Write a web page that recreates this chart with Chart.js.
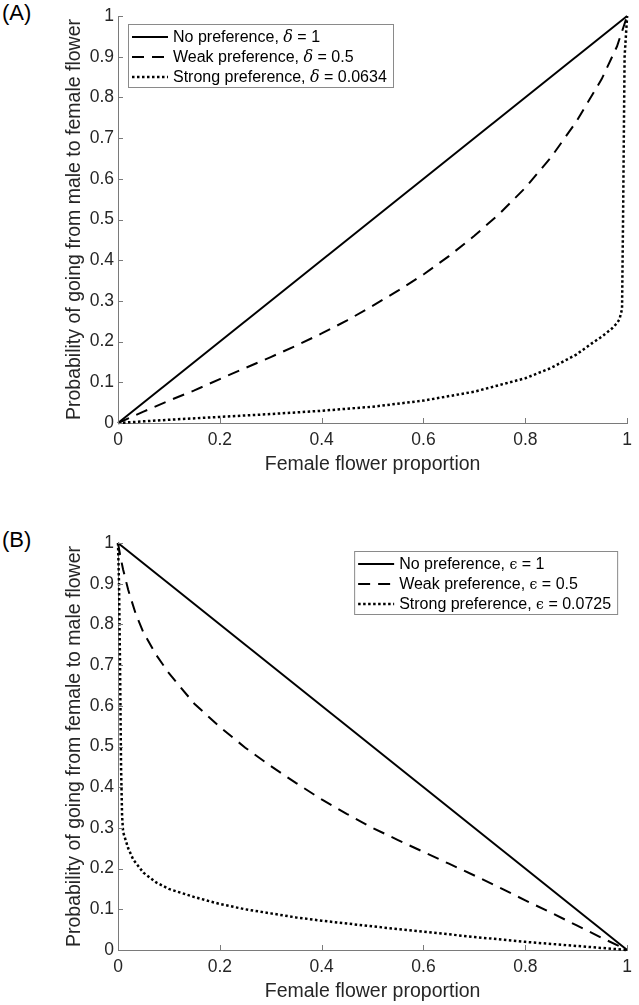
<!DOCTYPE html>
<html><head><meta charset="utf-8">
<script src="https://cdn.jsdelivr.net/npm/chart.js@4.4.0/dist/chart.umd.min.js"></script>
<style>
html,body{margin:0;padding:0;background:#fff;width:639px;height:1005px;overflow:hidden;}
canvas{position:absolute;left:0;}
#ca{top:0}
#cb{top:527px}
.pl{position:absolute;left:2px;font:22px "Liberation Sans",Arial,sans-serif;color:#000;line-height:1}
</style></head><body>
<div class="pl" style="top:2px">(A)</div>
<div class="pl" style="top:529px">(B)</div>
<canvas id="ca" width="639" height="478"></canvas>
<canvas id="cb" width="639" height="478"></canvas>
<script>
// ---- data ----
const xTickLabels = ['0','0.2','0.4','0.6','0.8','1'];
const yTickLabels = ['0','0.1','0.2','0.3','0.4','0.5','0.6','0.7','0.8','0.9','1'];
const xTitle = 'Female flower proportion';
const yTitleA = 'Probability of going from male to female flower';
const yTitleB = 'Probability of going from female to male flower';
const labelsA = ['No preference, δ = 1','Weak preference, δ = 0.5','Strong preference, δ = 0.0634'];
const labelsB = ['No preference, ϵ = 1','Weak preference, ϵ = 0.5','Strong preference, ϵ = 0.0725'];

const xA_none = [0, 1];
const yA_none = [0, 1];
const xA_weak = [0,0.05,0.1,0.15,0.2,0.25,0.3,0.35,0.4,0.45,0.5,0.55,0.6,0.65,0.7,0.75,0.8,0.85,0.9,0.95,0.98,1];
const yA_weak = [0,0.028,0.055,0.08,0.108,0.135,0.162,0.19,0.22,0.252,0.288,0.325,0.365,0.41,0.46,0.515,0.578,0.652,0.74,0.845,0.925,1];
const xA_strong = [0,0.05,0.1,0.2,0.3,0.4,0.5,0.6,0.7,0.8,0.85,0.9,0.93,0.95,0.97,0.98,0.985,0.99,0.992,0.995,1];
const yA_strong = [0,0.004,0.008,0.015,0.022,0.03,0.04,0.055,0.077,0.11,0.135,0.168,0.195,0.212,0.232,0.245,0.255,0.28,0.5,0.9,1];

const xB_none = [0, 1];
const yB_none = [1, 0];
const xB_weak = [0,0.005,0.01,0.02,0.035,0.05,0.075,0.1,0.15,0.2,0.25,0.3,0.35,0.4,0.45,0.5,0.55,0.6,0.65,0.7,0.75,0.8,0.85,0.9,0.95,1];
const yB_weak = [1,0.965,0.935,0.885,0.825,0.78,0.725,0.68,0.605,0.548,0.497,0.452,0.41,0.37,0.334,0.3,0.27,0.241,0.212,0.183,0.153,0.122,0.092,0.061,0.03,0];
const xB_strong = [0,0.002,0.004,0.006,0.008,0.01,0.02,0.03,0.05,0.075,0.1,0.15,0.2,0.25,0.3,0.35,0.4,0.45,0.5,0.6,0.7,0.8,0.9,0.95,1];
const yB_strong = [1,0.9,0.7,0.45,0.33,0.29,0.25,0.222,0.19,0.166,0.15,0.13,0.113,0.1,0.09,0.08,0.072,0.065,0.058,0.045,0.032,0.02,0.01,0.005,0];

// ---- helpers ----
const SANS = '"Liberation Sans", Arial, Helvetica, sans-serif';
const TXT = '#262626';
const AXIS = '#7a7a7a';
const pts = (xs, ys) => xs.map((x, i) => ({x: x, y: ys[i]}));

const inwardTicks = {
  id: 'inwardTicks',
  afterDatasetsDraw(chart) {
    const ctx = chart.ctx, xs = chart.scales.x, ys = chart.scales.y, ca = chart.chartArea;
    ctx.save();
    ctx.strokeStyle = AXIS; ctx.lineWidth = 1;
    ctx.beginPath();
    xs.ticks.forEach(t => { const p = Math.round(xs.getPixelForValue(t.value)) + 0.5; ctx.moveTo(p, ca.bottom); ctx.lineTo(p, ca.bottom - 5); });
    ys.ticks.forEach(t => { const p = Math.round(ys.getPixelForValue(t.value)) + 0.5; ctx.moveTo(ca.left, p); ctx.lineTo(ca.left + 5, p); });
    ctx.stroke();
    ctx.restore();
  }
};

const boxLegend = {
  id: 'boxLegend',
  afterDraw(chart, args, opts) {
    const ctx = chart.ctx, ca = chart.chartArea;
    const fs = 16, rowH = 20, lineLen = 36, gap = 5, padL = 4, padR = 6;
    const sans = fs + 'px ' + SANS;
    const greek = 'italic ' + fs + 'px "DejaVu Serif", serif';
    const greekE = '14px "DejaVu Serif", serif';
    ctx.save();
    const parts = chart.data.datasets.map(ds => ds.label.split(/([δϵ])/));
    const gf = s => s === 'ϵ' ? greekE : greek;
    const measure = p => p.reduce((w, s, i) => { ctx.font = (i % 2) ? gf(s) : sans; return w + ctx.measureText(s).width; }, 0);
    const textW = Math.max(...parts.map(measure));
    const w = Math.round(padL + lineLen + gap + textW + padR);
    const h = 63;
    const left = opts.side === 'left' ? ca.left + opts.offsetX : ca.right - opts.offsetX - w;
    const top = ca.top + opts.offsetY;
    ctx.fillStyle = '#fff'; ctx.fillRect(left, top, w, h);
    ctx.strokeStyle = '#8a8a8a'; ctx.lineWidth = 1; ctx.strokeRect(left + 0.5, top + 0.5, w, h);
    chart.data.datasets.forEach((ds, i) => {
      const y = top + 13 + rowH * i;
      ctx.strokeStyle = ds.borderColor; ctx.lineWidth = ds.borderWidth;
      ctx.setLineDash(ds.borderDash || []);
      ctx.beginPath(); ctx.moveTo(left + padL, y); ctx.lineTo(left + padL + lineLen, y); ctx.stroke();
      ctx.setLineDash([]);
      let x = left + padL + lineLen + gap;
      ctx.fillStyle = '#000'; ctx.textBaseline = 'middle'; ctx.textAlign = 'left';
      parts[i].forEach((s, j) => { ctx.font = (j % 2) ? gf(s) : sans; ctx.fillText(s, x, y + 1); x += ctx.measureText(s).width; });
    });
    ctx.restore();
  }
};

function makeChart(id, sets, labels, yTitle, side) {
  const styles = [
    {borderDash: [], borderWidth: 2},
    {borderDash: [12, 8], borderWidth: 2},
    {borderDash: [2.5, 2.5], borderWidth: 2.5}
  ];
  const datasets = sets.map((s, i) => ({
    label: labels[i], data: pts(s[0], s[1]),
    borderColor: '#000', backgroundColor: '#000',
    borderWidth: styles[i].borderWidth, borderDash: styles[i].borderDash,
    pointRadius: 0, tension: 0, fill: false, clip: 6
  }));
  return new Chart(document.getElementById(id), {
    type: 'line',
    data: {datasets},
    options: {
      responsive: false, animation: false, devicePixelRatio: 1,
      layout: {padding: {top: 16, right: 5, left: 0, bottom: 0}},
      plugins: {legend: {display: false}, tooltip: {enabled: false},
        boxLegend: {side: side, offsetX: 10, offsetY: 8}},
      scales: {
        x: {
          type: 'linear', min: 0, max: 1,
          ticks: {stepSize: 0.2, autoSkip: false, maxRotation: 0, padding: 7, color: TXT,
            font: {family: SANS, size: 17.5},
            callback: v => xTickLabels[Math.round(v / 0.2)]},
          grid: {display: false, drawTicks: false},
          border: {display: true, color: AXIS, width: 1},
          title: {display: true, text: xTitle, color: TXT, font: {family: SANS, size: 19.5}, padding: {top: 0, bottom: 2}},
          afterFit: s => { s.height = 55; }
        },
        y: {
          type: 'linear', min: 0, max: 1,
          ticks: {stepSize: 0.1, autoSkip: false, padding: 4, color: TXT,
            font: {family: SANS, size: 17.5},
            callback: v => yTickLabels[Math.round(v / 0.1)]},
          grid: {display: false, drawTicks: false},
          border: {display: true, color: AXIS, width: 1},
          title: {display: true, text: yTitle, color: TXT, font: {family: SANS, size: 19.5}, padding: {top: 63, bottom: 0}},
          afterFit: s => { s.width = 118; }
        }
      }
    },
    plugins: [inwardTicks, boxLegend]
  });
}

makeChart('ca', [[xA_none, yA_none], [xA_weak, yA_weak], [xA_strong, yA_strong]], labelsA, yTitleA, 'left');
makeChart('cb', [[xB_none, yB_none], [xB_weak, yB_weak], [xB_strong, yB_strong]], labelsB, yTitleB, 'right');
</script>
</body></html>
